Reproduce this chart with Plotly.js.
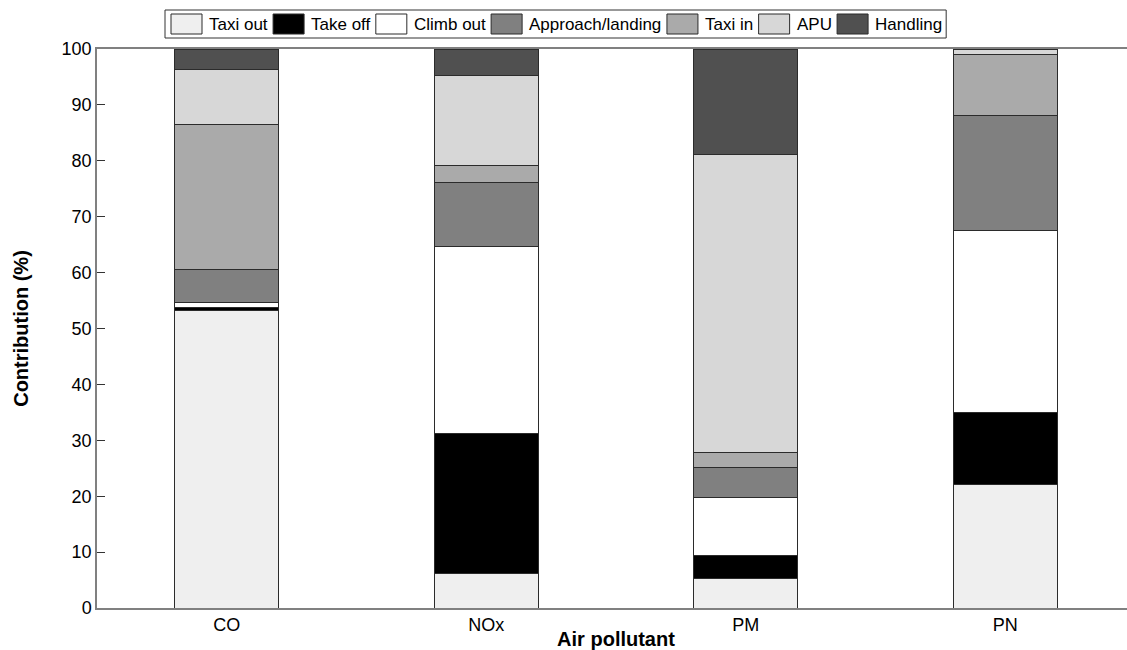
<!DOCTYPE html>
<html>
<head>
<meta charset="utf-8">
<script src="https://cdn.plot.ly/plotly-3.0.1.min.js"></script>
<style>
  html, body { margin: 0; padding: 0; background: #ffffff; overflow: hidden; }
  #chart { width: 1145px; height: 650px; }
</style>
</head>
<body>
<div id="chart"></div>
<script>
// Share of each flight/ground phase in total emissions, per pollutant (%)
const pollutants = ['CO', 'NOx', 'PM', 'PN'];

const taxiOut     = [53.3,  6.2,  5.3, 22.1];
const takeOff     = [ 0.4, 25.0,  4.1, 12.9];
const climbOut    = [ 0.9, 33.4, 10.4, 32.6];
const approach    = [ 5.9, 11.6,  5.4, 20.5];
const taxiIn      = [26.0,  3.0,  2.7, 11.0];
const apu         = [ 9.9, 16.0, 53.3,  0.9];
const handling    = [ 3.6,  4.8, 18.8,  0.0];

const phaseNames  = ['Taxi out', 'Take off', 'Climb out', 'Approach/landing', 'Taxi in', 'APU', 'Handling'];
const phaseValues = [taxiOut, takeOff, climbOut, approach, taxiIn, apu, handling];
const phaseColors = ['#efefef', '#000000', '#ffffff', '#808080', '#aaaaaa', '#d7d7d7', '#505050'];

const fontFamily = 'Arial, "Liberation Sans", Helvetica, sans-serif';
const W = 1145, H = 650;
const M = { l: 97, r: 10, t: 49, b: 42 };
const plotW = W - M.l - M.r, plotH = H - M.t - M.b;

const traces = phaseNames.map((name, i) => ({
  type: 'bar',
  name: name,
  x: pollutants,
  y: phaseValues[i],
  width: 0.4,
  showlegend: false,
  marker: { color: phaseColors[i], line: { color: '#2b2b2b', width: 1 } },
  hoverinfo: 'x+y+name'
}));

// Legend strip above the plot: wide swatches with labels, in one framed row
const px2x = p => (p - M.l) / plotW;
const px2y = p => (H - M.b - p) / plotH;
const legendFont = 17;
const ctx = document.createElement('canvas').getContext('2d');
ctx.font = legendFont + 'px Arial, "Liberation Sans", sans-serif';

const shapes = [];
const annotations = [];
const legTop = 10, legBottom = 38, legLeft = 165;
const swW = 31, swTop = 14, swBottom = 34;
let cx = legLeft + 6;
phaseNames.forEach((name, i) => {
  shapes.push({
    type: 'rect', xref: 'paper', yref: 'paper',
    x0: px2x(cx), x1: px2x(cx + swW), y0: px2y(swBottom), y1: px2y(swTop),
    fillcolor: phaseColors[i], line: { color: '#2b2b2b', width: 1 }
  });
  cx += swW + 5;
  annotations.push({
    xref: 'paper', yref: 'paper', x: px2x(cx), y: px2y((legTop + legBottom) / 2),
    xanchor: 'left', yanchor: 'middle', showarrow: false, text: name,
    font: { family: fontFamily, size: legendFont, color: '#000000' }
  });
  cx += ctx.measureText(name).width + 7.5;
});
shapes.unshift({
  type: 'rect', xref: 'paper', yref: 'paper',
  x0: px2x(legLeft), x1: px2x(cx - 1.5), y0: px2y(legBottom), y1: px2y(legTop),
  fillcolor: '#ffffff', line: { color: '#333333', width: 1 }
});

const layout = {
  width: W,
  height: H,
  barmode: 'stack',
  paper_bgcolor: '#ffffff',
  plot_bgcolor: '#ffffff',
  margin: M,
  font: { family: fontFamily, size: 18, color: '#000000' },
  showlegend: false,
  shapes: shapes,
  annotations: annotations,
  xaxis: {
    title: { text: 'Air pollutant', font: { family: fontFamily, size: 20, weight: 'bold' }, standoff: 2 },
    range: [-0.5, 3.5],
    showline: true, mirror: true, linecolor: '#808080', linewidth: 1.5,
    ticks: '', showgrid: false, zeroline: false,
    tickfont: { size: 18 }
  },
  yaxis: {
    title: { text: 'Contribution (%)', font: { family: fontFamily, size: 20, weight: 'bold' }, standoff: 28 },
    range: [0, 100],
    tickvals: [0, 10, 20, 30, 40, 50, 60, 70, 80, 90, 100],
    showline: true, mirror: 'ticks', linecolor: '#808080', linewidth: 1.5,
    ticks: 'inside', ticklen: 8, tickcolor: '#333333',
    showgrid: false, zeroline: false,
    tickfont: { size: 18 }
  }
};

Plotly.newPlot('chart', traces, layout, { displayModeBar: false });
</script>
</body>
</html>
